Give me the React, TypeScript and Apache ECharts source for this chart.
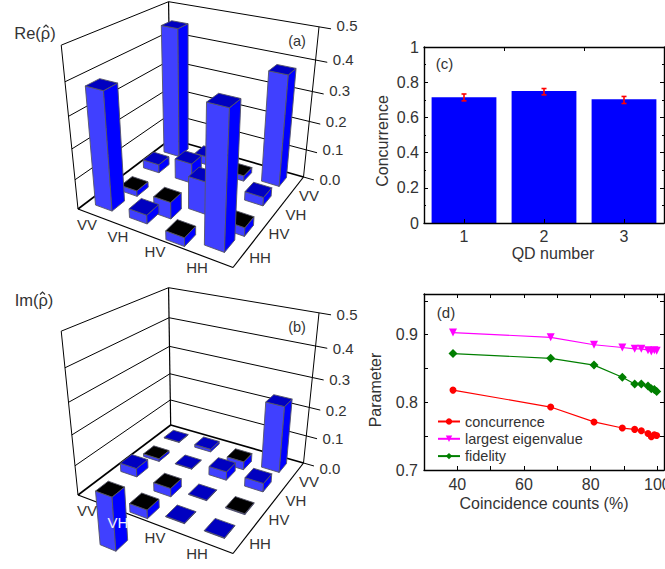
import React, { useEffect, useRef } from "react";
import * as echarts from "echarts";

const FONT = "Liberation Sans";
const INK = "#333333";

// ---------- data ----------
const basis = ["VV", "VH", "HV", "HH"];
const zTicks = [0, 0.1, 0.2, 0.3, 0.4, 0.5];
// density-matrix cells: rows = first label (along the left-front edge), columns = second label (along the right-front edge)
const reRho = [
  [0.45, 0.03, -0.02, 0.38],
  [0.03, 0.07, -0.06, 0.03],
  [-0.02, 0.0, 0.11, -0.03],
  [0.375, 0.03, -0.03, 0.42],
];
const imRho = [
  [0.002, -0.01, 0.03, -0.2],
  [0.01, 0.002, -0.03, -0.03],
  [-0.03, 0.03, 0.002, 0.002],
  [0.23, 0.03, -0.003, 0.002],
];
const qdNumbers = ["1", "2", "3"];
const concurrenceQD = [0.715, 0.75, 0.703];
const concurrenceLow = [0.694, 0.728, 0.679];
const concurrenceHigh = [0.733, 0.764, 0.719];
const counts = [38.7, 68, 81, 89.5, 93.2, 95.2, 97.2, 98.2, 99.1, 99.8];
const concurrence = [0.818, 0.793, 0.771, 0.762, 0.76, 0.758, 0.754, 0.749, 0.752, 0.751];
const largestEigenvalue = [0.903, 0.896, 0.885, 0.881, 0.879, 0.879, 0.877, 0.875, 0.877, 0.876];
const fidelity = [0.872, 0.865, 0.855, 0.837, 0.827, 0.827, 0.824, 0.82, 0.819, 0.816];

// ---------- perspective model of the 3D panels ----------
type P = [number, number];
function makeProjection(dy: number) {
  const B: P = [170.7, 139 + dy];
  const R: P = [303.5, 177 + dy];
  const F: P = [233, 267.5 + dy];
  const L: P = [78, 209 + dy];
  const top: P = [168.3, 1.7 + dy];
  const vp: P = [188.6, 1289 + dy];
  const dx1 = R[0] - F[0], dx2 = L[0] - F[0], sx = B[0] - R[0] + F[0] - L[0];
  const dy1 = R[1] - F[1], dy2 = L[1] - F[1], sy = B[1] - R[1] + F[1] - L[1];
  const den = dx1 * dy2 - dx2 * dy1;
  const g = (sx * dy2 - dx2 * sy) / den;
  const h = (dx1 * sy - sx * dy1) / den;
  const a = R[0] - B[0] + g * R[0], b = L[0] - B[0] + h * L[0];
  const d = R[1] - B[1] + g * R[1], e = L[1] - B[1] + h * L[1];
  const lam = ((B[1] - top[1]) / (top[1] - vp[1])) / 0.5;
  return (s: number, t: number, z: number): P => {
    const W = g * s + h * t + 1 + lam * z;
    return [
      (a * s + b * t + B[0] + lam * z * vp[0]) / W,
      (d * s + e * t + B[1] + lam * z * vp[1]) / W,
    ];
  };
}

function cellRows(m: number[][]) {
  const rows: number[][] = [];
  for (let k = 0; k <= 6; k++)
    for (let i = 0; i < 4; i++) {
      const j = k - i;
      if (j >= 0 && j < 4) rows.push([i, j, m[i][j]]);
    }
  return rows;
}

function barSeries(m: number[][], dy: number) {
  const proj = makeProjection(dy);
  const half = 0.24;
  return {
    type: "custom",
    coordinateSystem: "none",
    silent: true,
    z: 3,
    data: cellRows(m),
    renderItem: (_: any, api: any) => {
      const i = api.value(0), j = api.value(1), v = api.value(2);
      const cs = ((i + 0.5) / 4) * 0.97, ct = ((j + 0.5) / 4) * 0.98;
      const s0 = cs - half / 4, s1 = cs + half / 4;
      const t0 = ct - half / 4, t1 = ct + half / 4;
      const zt = Math.max(v, 0), zb = Math.min(v, 0);
      const edge = { stroke: "#555566", lineWidth: 0.9, lineJoin: "round" };
      const poly = (pts: P[], fill: string) => ({
        type: "polygon",
        shape: { points: pts },
        style: { fill, ...edge },
      });
      const topFace = poly(
        [proj(s0, t0, zt), proj(s1, t0, zt), proj(s1, t1, zt), proj(s0, t1, zt)],
        v < 0 ? "#000000" : "#0000c0"
      );
      const leftFace = poly(
        [proj(s0, t1, zt), proj(s1, t1, zt), proj(s1, t1, zb), proj(s0, t1, zb)],
        "#4040ff"
      );
      const rightFace = poly(
        [proj(s1, t1, zt), proj(s1, t0, zt), proj(s1, t0, zb), proj(s1, t1, zb)],
        "#0000ff"
      );
      return { type: "group", children: [leftFace, rightFace, topFace] };
    },
  };
}

function frameGraphics(
  dy: number, title: string, titleX: number, titleY: number, hatX: number,
  tag: string, whiteLabel: string | null, tickLabelShift: number
) {
  const proj = makeProjection(dy);
  const els: any[] = [];
  const line = (p: P, q: P, w = 1) =>
    els.push({
      type: "line",
      z: 1,
      silent: true,
      shape: { x1: p[0], y1: p[1], x2: q[0], y2: q[1] },
      style: { stroke: "#000000", lineWidth: w },
    });
  const text = (t: string, x: number, y: number, fill = INK, size = 15) =>
    els.push({
      type: "text",
      z: 10,
      silent: true,
      x,
      y,
      style: { text: t, fill, font: `${size}px "${FONT}"`, textAlign: "center", textVerticalAlign: "middle" },
    });
  line(proj(0, 0, 0), proj(1, 0, 0), 1.6);
  line(proj(0, 0, 0), proj(0, 1, 0), 1.6);
  line(proj(0, 1, 0), proj(1, 1, 0), 1.2);
  line(proj(1, 0, 0), proj(1, 1, 0), 1.2);
  line(proj(0, 1, 0), proj(0, 1, 0.5));
  line(proj(0, 0, 0), proj(0, 0, 0.5), 1.2);
  line(proj(1, 0, 0), proj(1, 0, 0.5));
  zTicks.forEach((z) => {
    if (z > 0) {
      line(proj(0, 1, z), proj(0, 0, z));
      line(proj(0, 0, z), proj(1, 0, z));
    }
    const end = proj(1.07, 0, z);
    line(proj(1, 0, z), end);
    text(z.toFixed(1), end[0] + 16, end[1] + (z === 0 ? 3 : 0) + tickLabelShift);
  });
  const leftAnchors: P[] = [[87, 224], [118, 236], [155, 251], [197, 267]];
  const rightAnchors: P[] = [[309, 195], [296, 214], [279, 233], [260, 257]];
  basis.forEach((b, k) => {
    text(b, leftAnchors[k][0], leftAnchors[k][1] + dy, whiteLabel === b ? "#eeeeff" : INK);
    text(b, rightAnchors[k][0], rightAnchors[k][1] + dy);
  });
  text(title, titleX, titleY, INK, 16.5);
  els.push({
    type: "polyline",
    z: 10,
    silent: true,
    shape: { points: [[hatX - 2.5, titleY - 5.5], [hatX, titleY - 8], [hatX + 2.5, titleY - 5.5]] },
    style: { stroke: INK, lineWidth: 1.2, fill: "none" },
  });
  text(tag, 297, 41 + dy, INK, 14.5);
  return els;
}

function errorRender(_: any, api: any) {
  const x = api.value(0);
  const lo = api.coord([x, api.value(1)]);
  const hi = api.coord([x, api.value(2)]);
  const style = { stroke: "#ff0000", lineWidth: 1.6 };
  return {
    type: "group",
    children: [
      { type: "line", shape: { x1: lo[0], y1: lo[1], x2: hi[0], y2: hi[1] }, style },
      { type: "line", shape: { x1: lo[0] - 2.5, y1: lo[1], x2: lo[0] + 2.5, y2: lo[1] }, style },
      { type: "line", shape: { x1: hi[0] - 2.5, y1: hi[1], x2: hi[0] + 2.5, y2: hi[1] }, style },
    ],
  };
}

const axisLine = { show: true, onZero: false, lineStyle: { color: "#000", width: 1.4 } };
const tickIn = { show: true, inside: true, length: 4, lineStyle: { color: "#000", width: 1 } };
const labelStyle = { color: INK, fontFamily: FONT, fontSize: 16 };
const nameStyle = { color: INK, fontFamily: FONT, fontSize: 16 };

export default function App() {
  const ref = useRef<HTMLDivElement>(null);
  useEffect(() => {
    document.body.style.margin = "0";
    const chart = echarts.init(ref.current!, undefined, { renderer: "svg" });
    const xTickVals = [40, 50, 60, 70, 80, 90, 100];
    const yTickVals = [0.7, 0.75, 0.8, 0.85, 0.9, 0.95];
    const lineSeries = (name: string, vals: number[], color: string, symbol: string, size: number, rot = 0) => ({
      name,
      type: "line",
      xAxisIndex: 2,
      yAxisIndex: 2,
      data: counts.map((c, k) => [c, vals[k]]),
      symbol,
      symbolSize: size,
      symbolRotate: rot,
      itemStyle: { color },
      lineStyle: { color, width: 1.2 },
    });
    chart.setOption({
      animation: false,
      backgroundColor: "#ffffff",
      grid: [
        { left: 424, top: 47, width: 240, height: 176, outerBoundsMode: "none" },
        { left: 424, top: 294, width: 240, height: 176, outerBoundsMode: "none" },
      ],
      xAxis: [
        {
          type: "category", gridIndex: 0, data: qdNumbers, z: 5,
          axisLine, axisTick: { ...tickIn, alignWithLabel: true },
          axisLabel: { ...labelStyle, margin: 5 }, splitLine: { show: false },
          name: "QD number", nameLocation: "middle", nameGap: 22,
          nameTextStyle: { ...nameStyle, padding: [0, 0, 0, 18] },
        },
        {
          type: "category", gridIndex: 0, position: "top", data: qdNumbers, z: 5,
          axisLine, axisTick: tickIn, axisLabel: { show: false }, splitLine: { show: false },
        },
        {
          type: "value", gridIndex: 1, min: 30, max: 102, z: 5,
          axisLine, axisTick: { ...tickIn, customValues: xTickVals },
          axisLabel: { ...labelStyle, margin: 6, customValues: [40, 60, 80, 100] },
          splitLine: { show: false },
          name: "Coincidence counts (%)", nameLocation: "middle", nameGap: 25,
          nameTextStyle: nameStyle,
        },
        {
          type: "value", gridIndex: 1, position: "top", min: 30, max: 102, z: 5,
          axisLine, axisTick: { ...tickIn, customValues: xTickVals },
          axisLabel: { show: false, customValues: [] }, splitLine: { show: false },
        },
      ],
      yAxis: [
        {
          type: "value", gridIndex: 0, min: 0, max: 1, interval: 0.2, z: 5,
          axisLine, axisTick: tickIn, minorTick: { show: true, splitNumber: 2, length: 2, lineStyle: { color: "#000" } },
          axisLabel: { ...labelStyle, margin: 5 }, splitLine: { show: false },
          name: "Concurrence", nameLocation: "middle", nameGap: 34,
          nameTextStyle: { ...nameStyle, padding: [0, 12, 0, 0] },
        },
        {
          type: "value", gridIndex: 0, position: "right", min: 0, max: 1, interval: 0.2, z: 5,
          axisLine, axisTick: tickIn, minorTick: { show: true, splitNumber: 2, length: 2, lineStyle: { color: "#000" } },
          axisLabel: { show: false }, splitLine: { show: false },
        },
        {
          type: "value", gridIndex: 1, min: 0.7, max: 0.96, z: 5,
          axisLine, axisTick: { ...tickIn, customValues: yTickVals },
          axisLabel: { ...labelStyle, margin: 6, customValues: [0.7, 0.8, 0.9] }, splitLine: { show: false },
          name: "Parameter", nameLocation: "middle", nameGap: 41,
          nameTextStyle: { ...nameStyle, padding: [0, 16, 0, 0] },
        },
        {
          type: "value", gridIndex: 1, position: "right", min: 0.7, max: 0.96, z: 5,
          axisLine, axisTick: { ...tickIn, customValues: yTickVals },
          axisLabel: { show: false, customValues: [] }, splitLine: { show: false },
        },
      ],
      legend: {
        left: 437, top: 414, orient: "vertical", itemWidth: 22, itemHeight: 8, itemGap: 2.3,
        padding: 0, selectedMode: false,
        textStyle: { color: INK, fontFamily: FONT, fontSize: 14.5 },
        data: ["concurrence", "largest eigenvalue", "fidelity"],
      },
      graphic: [
        ...frameGraphics(0, "Re(ρ)", 35, 33, 46, "(a)", null, -3),
        ...frameGraphics(286, "Im(ρ)", 34, 300, 42.5, "(b)", "VH", 0),
        {
          type: "text", z: 10, x: 444.5, y: 63, silent: true,
          style: { text: "(c)", fill: INK, font: `15px "${FONT}"`, textAlign: "center", textVerticalAlign: "middle" },
        },
        {
          type: "text", z: 10, x: 446, y: 312, silent: true,
          style: { text: "(d)", fill: INK, font: `15px "${FONT}"`, textAlign: "center", textVerticalAlign: "middle" },
        },
      ],
      series: [
        barSeries(reRho, 0),
        barSeries(imRho, 286),
        {
          type: "bar", xAxisIndex: 0, yAxisIndex: 0, data: concurrenceQD, barWidth: "81%",
          itemStyle: { color: "#0000ff" },
        },
        {
          type: "custom", xAxisIndex: 0, yAxisIndex: 0, z: 6,
          data: qdNumbers.map((_, k) => [k, concurrenceLow[k], concurrenceHigh[k]]),
          renderItem: errorRender,
        },
        lineSeries("concurrence", concurrence, "#ff0000", "circle", 7),
        lineSeries("largest eigenvalue", largestEigenvalue, "#ff00ff", "triangle", 8, 180),
        lineSeries("fidelity", fidelity, "#007f00", "diamond", 9),
      ],
    });
    return () => chart.dispose();
  }, []);
  return <div ref={ref} style={{ width: 665, height: 569, overflow: "hidden" }} />;
}
